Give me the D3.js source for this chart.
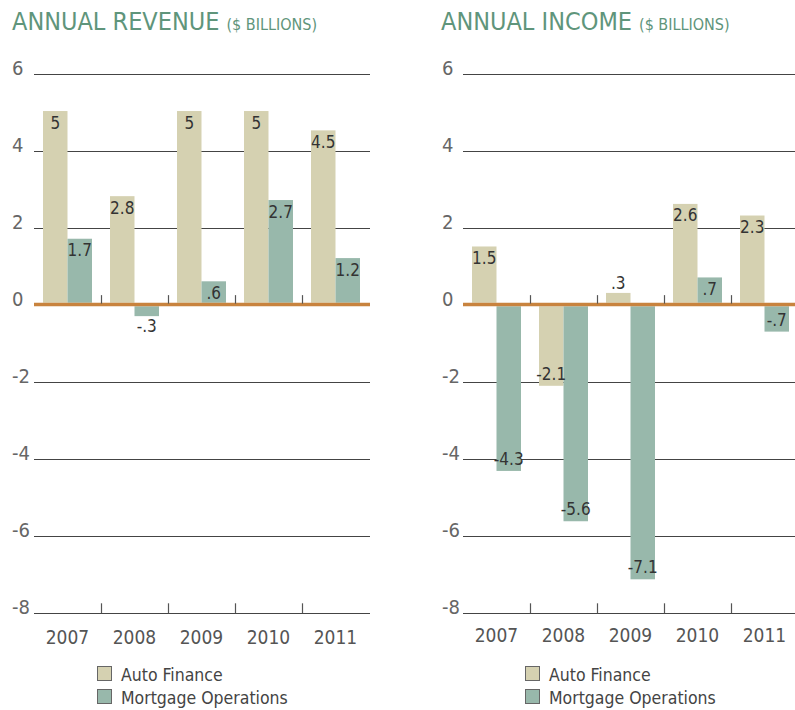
<!DOCTYPE html>
<html>
<head>
<meta charset="utf-8">
<script src="https://cdn.jsdelivr.net/npm/d3@7"></script>
<style>
  html, body { margin: 0; padding: 0; background: #fff; }
  svg { display: block; font-family: "Liberation Sans Narrow", "DejaVu Sans Condensed", "Roboto", sans-serif; }
</style>
</head>
<body>
<svg id="chart" width="795" height="710"></svg>
<script>
const years = ["2007", "2008", "2009", "2010", "2011"];
const seriesNames = ["Auto Finance", "Mortgage Operations"];
const revenueAuto = [5, 2.8, 5, 5, 4.5];
const revenueMortgage = [1.7, -0.3, 0.6, 2.7, 1.2];
const incomeAuto = [1.5, -2.1, 0.3, 2.6, 2.3];
const incomeMortgage = [-4.3, -5.6, -7.1, 0.7, -0.7];
const yTicks = [6, 4, 2, 0, -2, -4, -6, -8];

const colors = { "Auto Finance": "#d5d1b1", "Mortgage Operations": "#98b8ab" };
const svg = d3.select("#chart");

function fmt(v) {
  return String(v).replace("0.", ".");
}

function drawChart(opt) {
  const g = svg.append("g");
  const y = d3.scaleLinear().domain([-8, 6]).range([613.3, 74]);
  const zeroY = y(0) - 0.6;
  const yb = d3.scaleLinear().domain([0, 1]).range([zeroY, zeroY - 38.7]);
  const x0 = d3.scaleBand().domain(years).range([opt.x0, opt.x0 + 67 * 5]);
  const x1 = d3.scaleBand().domain(seriesNames).range([9, 58]);

  // Title
  const t = g.append("text").attr("x", opt.titleX).attr("y", 30).attr("fill", "#5f957b");
  t.append("tspan").attr("font-size", 25).text(opt.title);
  t.append("tspan").attr("font-size", 16).attr("dx", 7).text("($ BILLIONS)");

  // gridlines
  g.selectAll("line.grid").data(yTicks.filter(d => d !== 0)).join("line")
    .attr("class", "grid")
    .attr("x1", opt.x0).attr("x2", opt.gridEnd)
    .attr("y1", d => Math.round(y(d)) + 0.5).attr("y2", d => Math.round(y(d)) + 0.5)
    .attr("stroke", "#444").attr("stroke-width", 1.2);

  // y labels
  g.selectAll("text.ylab").data(yTicks).join("text")
    .attr("class", "ylab")
    .attr("x", opt.labelX).attr("y", d => y(d) + 1)
    .attr("text-anchor", "start")
    .attr("font-size", 20).attr("fill", "#666")
    .text(d => String(d));

  // bars
  const data = [];
  years.forEach((yr, i) => {
    data.push({ year: yr, s: seriesNames[0], v: opt.auto[i] });
    data.push({ year: yr, s: seriesNames[1], v: opt.mort[i] });
  });
  const half = 1.75;
  g.selectAll("rect.bar").data(data).join("rect")
    .attr("class", "bar")
    .attr("x", d => x0(d.year) + x1(d.s))
    .attr("width", x1.bandwidth())
    .attr("y", d => d.v >= 0 ? yb(d.v) : zeroY + half)
    .attr("height", d => d.v >= 0 ? (zeroY - half) - yb(d.v) : yb(d.v) - (zeroY + half))
    .attr("fill", d => colors[d.s]);

  // value labels
  g.selectAll("text.val").data(data).join("text")
    .attr("class", "val")
    .attr("x", d => x0(d.year) + x1(d.s) + x1.bandwidth() / 2)
    .attr("y", d => {
      const h = Math.abs(yb(d.v) - zeroY);
      if (d.v >= 0) {
        return h >= 20 ? yb(d.v) + 17.5 : yb(d.v) - 4;
      } else {
        return h >= 20 ? yb(d.v) - 6 : yb(d.v) + 16;
      }
    })
    .attr("text-anchor", "middle")
    .attr("font-size", 17).attr("fill", "#333")
    .text(d => fmt(d.v));

  // zero line
  g.append("line")
    .attr("x1", opt.x0).attr("x2", opt.gridEnd)
    .attr("y1", zeroY).attr("y2", zeroY)
    .attr("stroke", "#c8833e").attr("stroke-width", half * 2);

  // boundary ticks
  const bounds = years.slice(1);
  [0, -8].forEach(v => {
    g.selectAll(null).data(bounds).join("line")
      .attr("x1", d => x0(d) + 0.5).attr("x2", d => x0(d) + 0.5)
      .attr("y1", y(v) - 10).attr("y2", y(v) - (v === 0 ? 1.5 : 0))
      .attr("stroke", "#555").attr("stroke-width", 1.2);
  });

  // x labels
  g.selectAll("text.xlab").data(years).join("text")
    .attr("class", "xlab")
    .attr("x", d => x0(d) + x0.bandwidth() / 2)
    .attr("y", opt.xLabY)
    .attr("text-anchor", "middle")
    .attr("font-size", 19).attr("fill", "#555")
    .text(d => d);

  // legend
  const lg = g.append("g").attr("transform", `translate(${opt.legendX},666)`);
  seriesNames.forEach((s, i) => {
    lg.append("rect").attr("x", 0.5).attr("y", i * 23 + 0.5).attr("width", 14).attr("height", 14)
      .attr("fill", colors[s]).attr("stroke", "#666").attr("stroke-width", 1);
    lg.append("text").attr("x", 24).attr("y", i * 23 + 14.5)
      .attr("font-size", 17.5).attr("fill", "#444").text(s);
  });
}

drawChart({ title: "ANNUAL REVENUE", titleX: 12, x0: 34, gridEnd: 370, labelX: 12,
  auto: revenueAuto, mort: revenueMortgage, xLabY: 644, legendX: 97 });
drawChart({ title: "ANNUAL INCOME", titleX: 441, x0: 463, gridEnd: 795, labelX: 442,
  auto: incomeAuto, mort: incomeMortgage, xLabY: 642, legendX: 525 });
</script>
</body>
</html>
